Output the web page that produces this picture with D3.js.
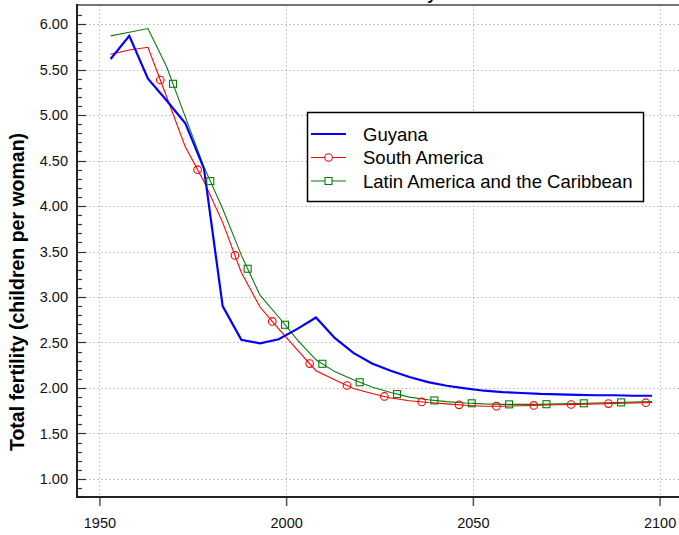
<!DOCTYPE html>
<html>
<head>
<meta charset="utf-8">
<script src="https://cdn.jsdelivr.net/npm/d3@7"></script>
<style>
  body { margin: 0; background: #fff; }
  svg { display: block; font-family: "Liberation Sans", Arial, sans-serif; }
</style>
</head>
<body>
<svg id="chart" width="679" height="535"></svg>
<script>
// ---- data ----
const years = [1953,1958,1963,1968,1973,1978,1983,1988,1993,1998,2003,2008,2013,2018,2023,2028,2033,2038,2043,2048,2053,2058,2063,2068,2073,2078,2083,2088,2093,2098];
const guyana = [5.615,5.87,5.40,5.16,4.91,4.41,2.90,2.53,2.49,2.535,2.65,2.775,2.55,2.385,2.27,2.19,2.12,2.065,2.025,1.995,1.97,1.955,1.945,1.935,1.93,1.925,1.92,1.92,1.915,1.915];
const southAmerica = [5.667,5.715,5.744,5.20,4.65,4.27,3.82,3.27,2.89,2.65,2.42,2.19,2.09,1.995,1.94,1.89,1.86,1.84,1.825,1.81,1.80,1.80,1.805,1.81,1.815,1.82,1.825,1.83,1.835,1.84];
const latinAmerica = [5.87,5.91,5.95,5.53,4.98,4.43,3.97,3.46,3.02,2.78,2.53,2.31,2.18,2.09,2.01,1.95,1.90,1.87,1.85,1.835,1.825,1.82,1.82,1.82,1.825,1.83,1.835,1.84,1.845,1.85];
const circleYears = [1966.3,1976.3,1986.3,1996.3,2006.3,2016.3,2026.3,2036.3,2046.3,2056.3,2066.3,2076.3,2086.3,2096.3];
const squareYears = [1969.7,1979.7,1989.7,1999.7,2009.7,2019.7,2029.7,2039.7,2049.7,2059.7,2069.7,2079.7,2089.7];
const yTicks = [1.00,1.50,2.00,2.50,3.00,3.50,4.00,4.50,5.00,5.50,6.00];
const xTicks = [1950,2000,2050,2100];
const seriesNames = ["Guyana","South America","Latin America and the Caribbean"];
const yLabel = "Total fertility (children per woman)";
const titleText = "Guyana";

// ---- layout ----
const svg = d3.select("#chart");
const L = 77, R = 682, T = 5, B = 497;
const x = d3.scaleLinear().domain([1944, 2106]).range([L, R]);
const y = d3.scaleLinear().domain([0.802, 6.209]).range([B, T]);

// title (mostly above the visible area, as in the reference)
svg.append("text").attr("x", 405).attr("y", -0.5)
  .attr("font-size", 16).attr("font-weight", "bold").attr("fill", "#000").text(titleText);

// grid
const grid = svg.append("g").attr("stroke", "#c8c8c8").attr("stroke-dasharray", "2,2").attr("stroke-width", 1);
grid.selectAll("line.h").data(yTicks).join("line")
  .attr("x1", L).attr("x2", R).attr("y1", d => Math.round(y(d)) + 0.5).attr("y2", d => Math.round(y(d)) + 0.5);
grid.selectAll("line.v").data(xTicks).join("line")
  .attr("y1", T).attr("y2", B).attr("x1", d => Math.round(x(d)) + 0.5).attr("x2", d => Math.round(x(d)) + 0.5);

// top border
svg.append("line").attr("x1", L).attr("x2", R).attr("y1", T).attr("y2", T)
  .attr("stroke", "#444").attr("stroke-width", 1.5);

// clip
svg.append("clipPath").attr("id", "clip").append("rect")
  .attr("x", L).attr("y", T).attr("width", R - L).attr("height", B - T);

// y axis
const yAxis = d3.axisLeft(y).tickValues(yTicks).tickFormat(d3.format(".2f")).tickSize(0).tickPadding(9);
const gy = svg.append("g").attr("transform", `translate(${L},0)`).call(yAxis);
gy.select(".domain").remove();
gy.selectAll("text").attr("font-size", 14.5).attr("fill", "#111").attr("font-family", "Liberation Sans, Arial, sans-serif");
// minor + major ticks (inward)
const minor = d3.range(8, 62).map(v => v / 10);
svg.append("g").selectAll("line").data(minor).join("line")
  .attr("x1", L).attr("x2", d => (Math.round(d * 10) % 5 === 0) ? L + 9 : L + 5)
  .attr("y1", d => Math.round(y(d)) + 0.5).attr("y2", d => Math.round(y(d)) + 0.5)
  .attr("stroke", "#333").attr("stroke-width", 1.2);
svg.append("line").attr("x1", L).attr("x2", L).attr("y1", T - 1).attr("y2", B + 1)
  .attr("stroke", "#222").attr("stroke-width", 2);

// x axis
const xAxis = d3.axisBottom(x).tickValues(xTicks).tickFormat(d3.format("d")).tickSize(9).tickPadding(12);
const gx = svg.append("g").attr("transform", `translate(0,${B})`).call(xAxis);
gx.select(".domain").remove();
gx.selectAll(".tick line").attr("stroke", "#555").attr("stroke-width", 1.5);
gx.selectAll("text").attr("font-size", 14.5).attr("fill", "#111").attr("font-family", "Liberation Sans, Arial, sans-serif");
svg.append("line").attr("x1", L - 1).attr("x2", R).attr("y1", B).attr("y2", B)
  .attr("stroke", "#222").attr("stroke-width", 2);

// y label
svg.append("text")
  .attr("transform", `translate(24,292) rotate(-90)`)
  .attr("text-anchor", "middle")
  .attr("font-size", 19.5).attr("font-weight", "bold").attr("fill", "#000")
  .text(yLabel);

// lines
const plot = svg.append("g").attr("clip-path", "url(#clip)");
const line = d3.line().x((d, i) => x(years[i])).y(d => y(d));
const interp = (vals, yr) => {
  const i = d3.bisectRight(years, yr) - 1;
  const t = (yr - years[i]) / (years[i + 1] - years[i]);
  return vals[i] + t * (vals[i + 1] - vals[i]);
};

plot.append("path").datum(latinAmerica).attr("d", line)
  .attr("fill", "none").attr("stroke", "#0b7a0b").attr("stroke-width", 1.1);
plot.append("path").datum(southAmerica).attr("d", line)
  .attr("fill", "none").attr("stroke", "#ff0000").attr("stroke-width", 1.1);
plot.append("path").datum(guyana).attr("d", line)
  .attr("fill", "none").attr("stroke", "#0000ff").attr("stroke-width", 2.2);

plot.selectAll("circle.m").data(circleYears).join("circle")
  .attr("cx", d => x(d)).attr("cy", d => y(interp(southAmerica, d))).attr("r", 3.8)
  .attr("fill", "none").attr("stroke", "#ff0000").attr("stroke-width", 1.1);
plot.selectAll("rect.m").data(squareYears).join("rect")
  .attr("x", d => x(d) - 3.5).attr("y", d => y(interp(latinAmerica, d)) - 3.5)
  .attr("width", 7).attr("height", 7)
  .attr("fill", "none").attr("stroke", "#0b7a0b").attr("stroke-width", 1.1);

// legend
const lg = svg.append("g");
lg.append("rect").attr("x", 307.5).attr("y", 112.5).attr("width", 336).attr("height", 89)
  .attr("fill", "#fff").attr("stroke", "#000").attr("stroke-width", 1.5);
const rowY = [134, 157.5, 181];
const colors = ["#0000ff", "#ff0000", "#0b7a0b"];
const widths = [2.2, 1.1, 1.1];
seriesNames.forEach((name, i) => {
  lg.append("line").attr("x1", 311).attr("x2", 346).attr("y1", rowY[i]).attr("y2", rowY[i])
    .attr("stroke", colors[i]).attr("stroke-width", widths[i]);
  lg.append("text").attr("x", 363).attr("y", rowY[i]).attr("dy", "0.36em")
    .attr("font-size", 18.5).attr("fill", "#000").text(name);
});
lg.append("circle").attr("cx", 328.5).attr("cy", rowY[1]).attr("r", 3.8)
  .attr("fill", "#fff").attr("stroke", "#ff0000").attr("stroke-width", 1.1);
lg.append("rect").attr("x", 325).attr("y", rowY[2] - 3.5).attr("width", 7).attr("height", 7)
  .attr("fill", "#fff").attr("stroke", "#0b7a0b").attr("stroke-width", 1.1);
</script>
</body>
</html>
